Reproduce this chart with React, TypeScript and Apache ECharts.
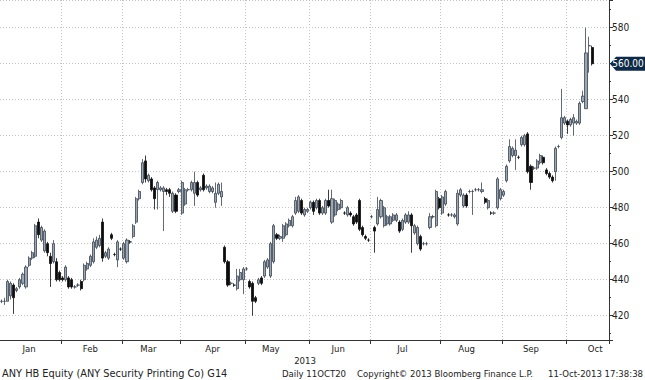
import React, { useEffect, useRef } from "react";
import * as echarts from "echarts";

// ---------- data ----------
const FIRST_DAY = "2013-01-04";
const LAST_AXIS_DAY = "2013-10-18"; // axis runs a few empty sessions past the last bar
const HOLIDAYS = ["2013-03-15", "2013-03-29", "2013-04-01", "2013-05-01", "2013-05-20", "2013-08-19", "2013-08-20"];
const MONTH_NAMES = ["Jan", "Feb", "Mar", "Apr", "May", "Jun", "Jul", "Aug", "Sep", "Oct", "Nov", "Dec"];
const MONTH_LABEL_DATES = ["2013-01-17", "2013-02-14", "2013-03-13", "2013-04-16", "2013-05-14", "2013-06-14", "2013-07-15", "2013-08-13", "2013-09-13", "2013-10-14"];
const YEAR_LABEL = "2013";
const LAST_PRICE = 560.0;

// [open, close, low, high]
const JAN = [
  [428, 428, 427, 429], [428, 428, 426, 430], [428, 439, 428, 440], [431, 438, 429, 439], [437, 430, 421, 438],
  [434, 435, 433, 436], [436, 440, 435, 441], [438, 443, 437, 444], [436, 447, 435, 448], [448, 452, 447, 453],
  [452, 455, 451, 456], [453, 470, 452, 471], [472, 465, 463, 474], [462, 469, 461, 470], [456, 467, 455, 468],
  [460, 455, 453, 461], [453, 449, 436, 455], [450, 460, 449, 462], [450, 440, 439, 452], [444, 440, 439, 445],
];
const FEB = [
  [441, 440, 439, 442], [440, 447, 439, 448], [441, 436, 435, 442], [440, 436, 435, 441], [436, 436, 435, 437],
  [437, 437, 436, 438], [439, 435, 434, 440], [440, 448, 439, 449], [446, 449, 445, 450], [448, 453, 447, 454],
  [450, 461, 449, 463], [458, 462, 457, 464], [459, 463, 458, 465], [472, 452, 450, 474], [453, 455, 452, 456],
  [452, 457, 451, 458], [465, 463, 462, 466], [454, 454, 453, 455], [451, 461, 447, 462], [457, 457, 456, 458],
];
const MAR = [
  [452, 460, 451, 461], [450, 462, 449, 463], [461, 461, 460, 462], [464, 470, 463, 471], [472, 485, 471, 486],
  [485, 489, 484, 490], [494, 505, 493, 507], [506, 496, 494, 509], [495, 498, 494, 499], [496, 490, 489, 497],
  [491, 485, 479, 492], [490, 494, 479, 495], [490, 491, 489, 492], [489, 491, 467, 492], [490, 489, 487, 491],
  [490, 488, 486, 491], [478, 488, 477, 489], [487, 478, 477, 488], [489, 490, 488, 491],
];
const APR = [
  [477, 494, 476, 495], [482, 490, 481, 491], [490, 490, 489, 491], [490, 494, 489, 495], [488, 494, 481, 500],
  [494, 487, 486, 495], [490, 491, 489, 492], [498, 490, 489, 499], [491, 492, 490, 493], [489, 492, 488, 493],
  [489, 491, 488, 492], [483, 488, 480, 494], [488, 493, 487, 494], [486, 489, 481, 494], [458, 450, 449, 459],
  [450, 437, 436, 451], [438, 438, 437, 439], [437, 437, 436, 438], [435, 442, 434, 446], [440, 444, 439, 446],
  [440, 446, 432, 447],
];
const MAY = [
  [446, 446, 445, 447], [439, 436, 435, 440], [438, 428, 420, 439], [430, 428, 427, 431], [438, 440, 437, 441],
  [441, 438, 437, 442], [442, 450, 441, 451], [447, 451, 446, 452], [442, 460, 441, 461], [450, 470, 449, 471],
  [465, 463, 462, 466], [463, 464, 462, 465], [463, 470, 461, 471], [465, 471, 464, 472], [470, 473, 469, 474],
  [470, 475, 469, 476], [477, 484, 476, 486], [478, 486, 477, 487], [484, 477, 476, 485], [476, 479, 475, 480],
  [478, 479, 477, 480],
];
const JUN = [
  [480, 483, 479, 484], [483, 478, 476, 484], [480, 484, 479, 485], [484, 477, 476, 485], [477, 480, 476, 481],
  [477, 484, 476, 485], [484, 481, 480, 490], [472, 485, 471, 490], [476, 484, 475, 485], [479, 482, 478, 483],
  [480, 484, 479, 485], [477, 477, 476, 478], [476, 480, 475, 481], [477, 476, 475, 478], [475, 471, 470, 476],
  [476, 472, 471, 477], [484, 468, 467, 485], [469, 465, 464, 470], [464, 463, 462, 465], [462, 462, 461, 463],
];
const JUL = [
  [475, 475, 474, 476], [469, 467, 455, 470], [471, 479, 470, 486], [475, 484, 474, 485], [470, 480, 469, 481],
  [471, 475, 470, 476], [471, 475, 470, 476], [473, 476, 472, 477], [473, 476, 472, 477], [472, 467, 466, 473],
  [468, 473, 467, 474], [472, 476, 471, 477], [472, 476, 471, 478], [476, 470, 455, 477], [466, 470, 465, 471],
  [460, 469, 459, 470], [464, 457, 456, 465], [460, 460, 459, 461], [460, 460, 459, 461], [469, 475, 468, 477],
  [475, 475, 474, 476], [470, 489, 469, 490], [485, 480, 479, 486],
];
const AUG = [
  [477, 486, 476, 487], [482, 489, 481, 490], [476, 476, 475, 477], [476, 476, 475, 477], [475, 476, 474, 477],
  [471, 488, 470, 490], [487, 490, 486, 491], [481, 487, 480, 488], [487, 481, 480, 488], [489, 489, 488, 490],
  [489, 489, 476, 490], [490, 490, 489, 491], [490, 490, 489, 491], [489, 490, 488, 494], [485, 483, 482, 486],
  [480, 484, 479, 485], [477, 477, 476, 478], [477, 477, 476, 478], [480, 496, 479, 497], [485, 490, 484, 491],
];
const SEP = [
  [487, 489, 486, 490], [495, 503, 494, 504], [506, 514, 505, 518], [509, 513, 508, 514], [509, 512, 501, 518],
  [508, 508, 507, 509], [515, 519, 514, 520], [515, 520, 514, 521], [521, 500, 499, 522], [503, 494, 490, 504],
  [502, 502, 501, 503], [502, 506, 501, 507], [505, 509, 504, 510], [508, 505, 504, 509], [501, 499, 498, 502],
  [499, 497, 496, 500], [497, 495, 494, 498], [500, 513, 495, 514], [514, 514, 513, 515], [519, 530, 518, 546],
  [527, 530, 526, 531],
];
const OCT = [
  [528, 526, 521, 529], [526, 529, 525, 530], [527, 530, 520, 532], [527, 528, 526, 529], [527, 538, 526, 539],
  [539, 542, 538, 545], [535, 566, 535, 580], [570, 570, 555, 575], [569, 560, 559, 570],
];

const FOOTER_LEFT = "ANY HB Equity (ANY Security Printing Co) G14";
const FOOTER_MID = "Daily 11OCT20";
const FOOTER_COPY = "Copyright\u00A9 2013 Bloomberg Finance L.P.";
const FOOTER_TIME = "11-Oct-2013 17:38:38";

// ---------- helpers ----------
function tradingDays(start: string, end: string, holidays: string[]): string[] {
  const out: string[] = [];
  const d = new Date(start + "T00:00:00Z");
  const e = new Date(end + "T00:00:00Z");
  while (d.getTime() <= e.getTime()) {
    const wd = d.getUTCDay();
    const s = d.toISOString().slice(0, 10);
    if (wd !== 0 && wd !== 6 && holidays.indexOf(s) < 0) out.push(s);
    d.setUTCDate(d.getUTCDate() + 1);
  }
  return out;
}

const FONT = "'DejaVu Sans Condensed', 'DejaVu Sans', sans-serif";
const FONT_WIDE = "'DejaVu Sans', sans-serif";

export default function App() {
  const ref = useRef<HTMLDivElement>(null);
  useEffect(() => {
    if (!ref.current) return;
    const chart = echarts.init(ref.current, undefined, { renderer: "svg" });
    const cats = tradingDays(FIRST_DAY, LAST_AXIS_DAY, HOLIDAYS);
    const bars = [...JAN, ...FEB, ...MAR, ...APR, ...MAY, ...JUN, ...JUL, ...AUG, ...SEP, ...OCT];
    const monthStart = new Set<number>();
    cats.forEach((c, i) => {
      if (i > 0 && c.slice(5, 7) !== cats[i - 1].slice(5, 7)) monthStart.add(i);
    });
    const labelSet = new Set(MONTH_LABEL_DATES);
    const gridLine = { color: "#c4c4c4", width: 1, type: [1, 2] as any };

    chart.setOption({
      animation: false,
      backgroundColor: "#ffffff",
      grid: { left: 0, right: 36, top: 0, bottom: 40, containLabel: false },
      xAxis: {
        type: "category",
        data: cats,
        boundaryGap: true,
        axisLine: { show: true, lineStyle: { color: "#333", width: 1 } },
        axisTick: {
          show: true,
          alignWithLabel: false,
          interval: (i: number) => monthStart.has(i),
          length: 4,
          lineStyle: { color: "#333" },
        },
        axisLabel: {
          interval: (_i: number, v: string) => labelSet.has(v),
          formatter: (v: string) => MONTH_NAMES[parseInt(v.slice(5, 7), 10) - 1],
          fontSize: 9.5,
          fontFamily: FONT,
          color: "#222",
          margin: 3,
        },
        splitLine: { show: true, interval: (i: number) => monthStart.has(i), lineStyle: gridLine },
      },
      yAxis: {
        type: "value",
        position: "right",
        min: 406.5,
        max: 595.4,
        splitNumber: 9,
        axisLine: { show: true, lineStyle: { color: "#333", width: 1 } },
        axisTick: { show: true, inside: false, length: 4, lineStyle: { color: "#333" } },
        minorTick: { show: true, splitNumber: 2, length: 2, lineStyle: { color: "#333" } },
        axisLabel: {
          showMinLabel: false,
          showMaxLabel: false,
          formatter: (v: number) =>
            Math.abs(v % 20) < 1e-6 && Math.abs(v - LAST_PRICE) > 1e-6 ? String(v) : "",
          fontSize: 10,
          fontFamily: FONT,
          color: "#222",
          margin: 3,
        },
        splitLine: { show: true, lineStyle: gridLine },
      },
      series: [
        {
          type: "candlestick",
          data: bars,
          barWidth: 2.6,
          itemStyle: {
            color: "#9ba7b3",
            borderColor: "#3a4450",
            color0: "#0c0c0c",
            borderColor0: "#0c0c0c",
            borderWidth: 0.8,
          },
        },
      ],
    });

    const y = chart.convertToPixel({ yAxisIndex: 0 }, LAST_PRICE) as number;
    const ax = 609;
    chart.setOption({
      graphic: [
        {
          type: "polygon",
          z: 100,
          shape: { points: [[ax + 1, y], [ax + 7, y - 7], [645, y - 7], [645, y + 7], [ax + 7, y + 7]] },
          style: { fill: "#0e2a47" },
        },
        {
          type: "text",
          z: 101,
          x: 628,
          y: y,
          style: { text: LAST_PRICE.toFixed(2), fill: "#ffffff", font: `10px ${FONT}`, align: "center", verticalAlign: "middle" },
        },
        {
          type: "text",
          x: 305,
          y: 360,
          style: { text: YEAR_LABEL, fill: "#222", font: `9.5px ${FONT}`, align: "center", verticalAlign: "middle" },
        },
        {
          type: "text",
          x: 2,
          y: 373,
          style: { text: FOOTER_LEFT, fill: "#222", font: `9.8px ${FONT_WIDE}`, align: "left", verticalAlign: "middle" },
        },
        {
          type: "text",
          x: 282,
          y: 373,
          style: { text: FOOTER_MID, fill: "#222", font: `9.5px ${FONT}`, align: "left", verticalAlign: "middle" },
        },
        {
          type: "text",
          x: 357,
          y: 373,
          style: { text: FOOTER_COPY, fill: "#222", font: `9.5px ${FONT}`, align: "left", verticalAlign: "middle" },
        },
        {
          type: "text",
          x: 643,
          y: 373,
          style: { text: FOOTER_TIME, fill: "#222", font: `9.5px ${FONT}`, align: "right", verticalAlign: "middle" },
        },
      ],
    });

    return () => chart.dispose();
  }, []);
  return <div ref={ref} style={{ width: 645, height: 380, position: "absolute", left: 0, top: 0 }} />;
}
